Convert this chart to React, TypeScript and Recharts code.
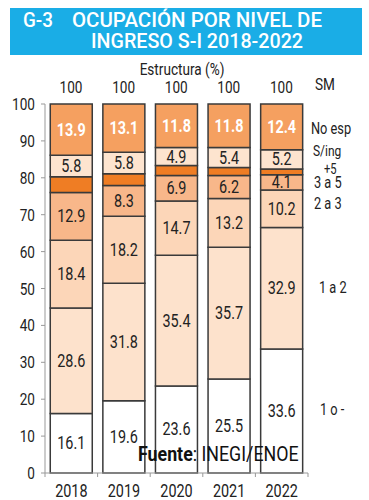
import React from "react";
import { BarChart, Bar, XAxis, YAxis, LabelList } from "recharts";

const years = ["2018", "2019", "2020", "2021", "2022"];
const unoMenos = [16.1, 19.6, 23.6, 25.5, 33.6];
const unoADos = [28.6, 31.8, 35.4, 35.7, 32.9];
const dosATres = [18.4, 18.2, 14.7, 13.2, 10.2];
const tresACinco = [12.9, 8.3, 6.9, 6.2, 4.1];
const masCinco = [4.3, 3.2, 2.7, 2.2, 1.6];
const sinIngreso = [5.8, 5.8, 4.9, 5.4, 5.2];
const noEsp = [13.9, 13.1, 11.8, 11.8, 12.4];
const totals = [100, 100, 100, 100, 100];
const yTicks = [0, 10, 20, 30, 40, 50, 60, 70, 80, 90, 100];

const data = years.map((y, i) => ({
  year: y,
  a: unoMenos[i],
  b: unoADos[i],
  c: dosATres[i],
  d: tresACinco[i],
  e: masCinco[i],
  f: sinIngreso[i],
  g: noEsp[i],
  total: totals[i],
}));

const FONT = "Roboto, 'DejaVu Sans', sans-serif";
const STROKE = "#3a3a3a";
const SX = 0.8;

const NT = (p: any) => {
  const { x, y, anchor = "start", size = 17, fill = "#222", weight = "normal", sx = SX, children } = p;
  return (
    <text
      transform={`translate(${x},${y}) scale(${sx},1)`}
      x={0}
      y={0}
      textAnchor={anchor}
      fontSize={size}
      fill={fill}
      fontWeight={weight}
      fontFamily={FONT}
    >
      {children}
    </text>
  );
};

const XTick = (props: any) => {
  const { x, y, payload, index } = props;
  const off = payload.offset || 0;
  return (
    <g>
      <line x1={x - off} x2={x - off} y1={y - 8} y2={y - 4} stroke="#999" />
      {index === years.length - 1 && (
        <line x1={x + off} x2={x + off} y1={y - 8} y2={y - 4} stroke="#999" />
      )}
      <NT x={x} y={y + 16} anchor="middle" size={18}>
        {payload.value}
      </NT>
    </g>
  );
};

const YTick = (props: any) => {
  const { x, y, payload } = props;
  return (
    <NT x={x} y={y + 6} anchor="end" size={17}>
      {payload.value}
    </NT>
  );
};

const makeLabel = (color: string, weight: string) => (props: any) => {
  const { x, y, width, height, value } = props;
  return (
    <NT x={Number(x) + Number(width) / 2} y={Number(y) + Number(height) / 2 + 6} anchor="middle" size={18} fill={color} weight={weight}>
      {Number(value).toFixed(1)}
    </NT>
  );
};

const series = [
  { key: "a", color: "#ffffff", labelColor: "#222", label: true },
  { key: "b", color: "#fde2cc", labelColor: "#222", label: true },
  { key: "c", color: "#fcd6b8", labelColor: "#222", label: true },
  { key: "d", color: "#f8b78a", labelColor: "#222", label: true },
  { key: "e", color: "#ef7d24", labelColor: "#222", label: false },
  { key: "f", color: "#fde4cf", labelColor: "#222", label: true },
  { key: "g", color: "#f5a060", labelColor: "#ffffff", label: true },
];

const rightLabels = [
  { t: "No esp", x: 311, y: 134, s: 16 },
  { t: "S/ing", x: 313, y: 156, s: 15 },
  { t: "+5", x: 324, y: 174, s: 14 },
  { t: "3 a 5", x: 314, y: 188, s: 16 },
  { t: "2 a 3", x: 314, y: 209, s: 16 },
  { t: "1 a 2", x: 319, y: 293, s: 16 },
  { t: "1 o -", x: 320, y: 415, s: 16 },
];

export default function App() {
  return (
    <div style={{ position: "absolute", left: 0, top: 0, width: 369, height: 500, background: "#fff", overflow: "hidden" }}>
      <BarChart
        width={369}
        height={500}
        data={data}
        margin={{ top: 104, right: 61, left: 0, bottom: 0 }}
        barCategoryGap="10%"
      >
        <XAxis
          dataKey="year"
          height={27}
          stroke="#999"
          tickLine={false}
          tick={<XTick />}
          interval={0}
        />
        <YAxis
          width={45}
          domain={[0, 100]}
          ticks={yTicks}
          interval={0}
          stroke="#999"
          tickSize={4}
          tickMargin={6}
          tick={<YTick />}
        />
        {series.map((s) => (
          <Bar
            key={s.key}
            dataKey={s.key}
            stackId="s"
            fill={s.color}
            stroke={STROKE}
            strokeWidth={1.5}
            isAnimationActive={false}
          >
            {s.label && (
              <LabelList
                dataKey={s.key}
                content={makeLabel(s.labelColor, s.key === "g" ? "bold" : "normal")}
              />
            )}
          </Bar>
        ))}
      </BarChart>
      <svg
        width={369}
        height={500}
        style={{ position: "absolute", left: 0, top: 0, pointerEvents: "none" }}
        fontFamily={FONT}
      >
        <rect x={10} y={8} width={352} height={47} fill="#1aade6" />
        <text x={23} y={27} fill="#fff" fontSize={20} fontWeight={500} textLength={30} lengthAdjust="spacingAndGlyphs">G-3</text>
        <text x={72} y={27} fill="#fff" fontSize={20} fontWeight={500} textLength={250} lengthAdjust="spacingAndGlyphs">OCUPACIÓN POR NIVEL DE</text>
        <text x={91} y={48} fill="#fff" fontSize={20} fontWeight={500} textLength={212} lengthAdjust="spacingAndGlyphs">INGRESO S-I 2018-2022</text>
        <NT x={182} y={75} anchor="middle" size={17}>Estructura (%)</NT>
        {data.map((d, i) => (
          <NT key={i} x={71 + i * 52.6} y={93} anchor="middle" size={17}>
            {d.total}
          </NT>
        ))}
        <NT x={315} y={90} size={17}>SM</NT>
        {rightLabels.map((r) => (
          <NT key={r.t} x={r.x} y={r.y} size={r.s}>
            {r.t}
          </NT>
        ))}
        <NT x={138} y={461} size={20} fill="#111" sx={0.89}>
          <tspan fontWeight="bold">Fuente</tspan>
          <tspan>: INEGI/ENOE</tspan>
        </NT>
      </svg>
    </div>
  );
}
